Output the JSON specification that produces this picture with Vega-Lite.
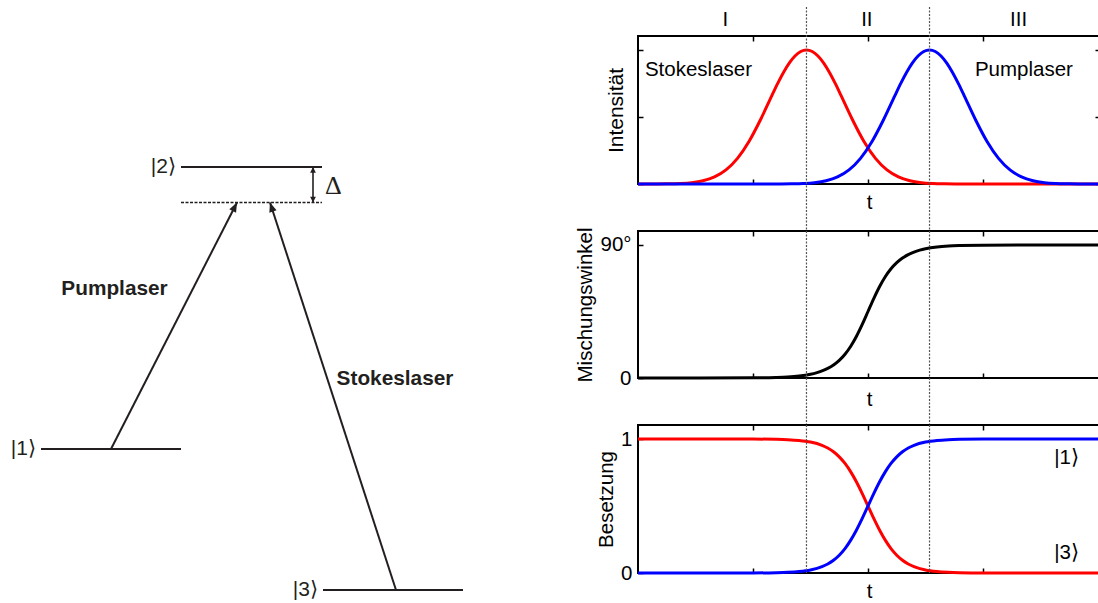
{
  "$schema": "https://vega.github.io/schema/vega-lite/v6.json",
  "padding": {"left": 0, "top": 5, "right": 0, "bottom": 0},
  "background": "white",
  "config": {
    "font": "Liberation Sans",
    "view": {"stroke": null},
    "axis": {
      "labelFont": "Liberation Sans", "titleFont": "Liberation Sans",
      "labelFontSize": 20.5, "titleFontSize": 20.5, "titleFontWeight": "normal",
      "labelColor": "black", "titleColor": "black",
      "domain": false, "grid": false,
      "tickColor": "black", "tickWidth": 1.5, "tickSize": -5
    }
  },
  "datasets": {
    "levels": [
      {"state": "|1⟩", "x1": 4.1, "x2": 18.1, "e": 3.333},
      {"state": "|2⟩", "x1": 18.1, "x2": 32.2, "e": 10},
      {"state": "|3⟩", "x1": 32.3, "x2": 46.3, "e": 0}
    ],
    "virtual": [{"x1": 18.1, "x2": 32.2, "e": 9.161}],
    "lasers": [
      {"laser": "Pumplaser", "x0": 11.1, "e0": 3.333, "x1": 23.7, "e1": 9.161, "lx": 11.45, "le": 7.123},
      {"laser": "Stokeslaser", "x0": 39.6, "e0": 0, "x1": 27.0, "e1": 9.161, "lx": 39.5, "le": 4.995}
    ],
    "detuning": [{"x": 31.3, "e_lo": 9.161, "e_hi": 10, "label": "Δ", "lx": 32.5, "le": 9.551}],
    "pulses": [
      {"laser": "Stokes", "t": -2, "v": 0},
      {"laser": "Stokes", "t": -1.835, "v": 0.0004},
      {"laser": "Stokes", "t": -1.735, "v": 0.0014},
      {"laser": "Stokes", "t": -1.635, "v": 0.0039},
      {"laser": "Stokes", "t": -1.535, "v": 0.0101},
      {"laser": "Stokes", "t": -1.435, "v": 0.0243},
      {"laser": "Stokes", "t": -1.335, "v": 0.053},
      {"laser": "Stokes", "t": -1.235, "v": 0.1054},
      {"laser": "Stokes", "t": -1.135, "v": 0.1915},
      {"laser": "Stokes", "t": -1.035, "v": 0.3173},
      {"laser": "Stokes", "t": -0.935, "v": 0.4797},
      {"laser": "Stokes", "t": -0.835, "v": 0.6615},
      {"laser": "Stokes", "t": -0.785, "v": 0.7506},
      {"laser": "Stokes", "t": -0.735, "v": 0.8322},
      {"laser": "Stokes", "t": -0.685, "v": 0.9019},
      {"laser": "Stokes", "t": -0.635, "v": 0.9551},
      {"laser": "Stokes", "t": -0.585, "v": 0.9886},
      {"laser": "Stokes", "t": -0.535, "v": 1},
      {"laser": "Stokes", "t": -0.485, "v": 0.9886},
      {"laser": "Stokes", "t": -0.435, "v": 0.9551},
      {"laser": "Stokes", "t": -0.385, "v": 0.9019},
      {"laser": "Stokes", "t": -0.335, "v": 0.8322},
      {"laser": "Stokes", "t": -0.285, "v": 0.7506},
      {"laser": "Stokes", "t": -0.235, "v": 0.6615},
      {"laser": "Stokes", "t": -0.135, "v": 0.4797},
      {"laser": "Stokes", "t": -0.035, "v": 0.3173},
      {"laser": "Stokes", "t": 0.065, "v": 0.1915},
      {"laser": "Stokes", "t": 0.165, "v": 0.1054},
      {"laser": "Stokes", "t": 0.265, "v": 0.053},
      {"laser": "Stokes", "t": 0.365, "v": 0.0243},
      {"laser": "Stokes", "t": 0.465, "v": 0.0101},
      {"laser": "Stokes", "t": 0.565, "v": 0.0039},
      {"laser": "Stokes", "t": 0.665, "v": 0.0014},
      {"laser": "Stokes", "t": 0.765, "v": 0.0004},
      {"laser": "Stokes", "t": 0.865, "v": 0},
      {"laser": "Stokes", "t": 2.0174, "v": 0},
      {"laser": "Pump", "t": -2, "v": 0},
      {"laser": "Pump", "t": -0.865, "v": 0},
      {"laser": "Pump", "t": -0.765, "v": 0.0004},
      {"laser": "Pump", "t": -0.665, "v": 0.0014},
      {"laser": "Pump", "t": -0.565, "v": 0.0039},
      {"laser": "Pump", "t": -0.465, "v": 0.0101},
      {"laser": "Pump", "t": -0.365, "v": 0.0243},
      {"laser": "Pump", "t": -0.265, "v": 0.053},
      {"laser": "Pump", "t": -0.165, "v": 0.1054},
      {"laser": "Pump", "t": -0.065, "v": 0.1915},
      {"laser": "Pump", "t": 0.035, "v": 0.3173},
      {"laser": "Pump", "t": 0.135, "v": 0.4797},
      {"laser": "Pump", "t": 0.235, "v": 0.6615},
      {"laser": "Pump", "t": 0.285, "v": 0.7506},
      {"laser": "Pump", "t": 0.335, "v": 0.8322},
      {"laser": "Pump", "t": 0.385, "v": 0.9019},
      {"laser": "Pump", "t": 0.435, "v": 0.9551},
      {"laser": "Pump", "t": 0.485, "v": 0.9886},
      {"laser": "Pump", "t": 0.535, "v": 1},
      {"laser": "Pump", "t": 0.585, "v": 0.9886},
      {"laser": "Pump", "t": 0.635, "v": 0.9551},
      {"laser": "Pump", "t": 0.685, "v": 0.9019},
      {"laser": "Pump", "t": 0.735, "v": 0.8322},
      {"laser": "Pump", "t": 0.785, "v": 0.7506},
      {"laser": "Pump", "t": 0.835, "v": 0.6615},
      {"laser": "Pump", "t": 0.935, "v": 0.4797},
      {"laser": "Pump", "t": 1.035, "v": 0.3173},
      {"laser": "Pump", "t": 1.135, "v": 0.1915},
      {"laser": "Pump", "t": 1.235, "v": 0.1054},
      {"laser": "Pump", "t": 1.335, "v": 0.053},
      {"laser": "Pump", "t": 1.435, "v": 0.0243},
      {"laser": "Pump", "t": 1.535, "v": 0.0101},
      {"laser": "Pump", "t": 1.635, "v": 0.0039},
      {"laser": "Pump", "t": 1.735, "v": 0.0014},
      {"laser": "Pump", "t": 1.835, "v": 0.0004},
      {"laser": "Pump", "t": 2.0174, "v": 0}
    ],
    "pulselabels": [
      {"t": -1.94, "v": 0.852, "label": "Stokeslaser"},
      {"t": 0.93, "v": 0.852, "label": "Pumplaser"}
    ],
    "phases": [
      {"t": -1.24, "v": 1.224, "label": "I"},
      {"t": -0.01, "v": 1.224, "label": "II"},
      {"t": 1.31, "v": 1.224, "label": "III"}
    ],
    "markers": [{"t": -0.535}, {"t": 0.535}],
    "mixing": [
      {"t": -2, "theta": 0},
      {"t": -1, "theta": 0.12},
      {"t": -0.8, "theta": 0.4},
      {"t": -0.7, "theta": 0.74},
      {"t": -0.6, "theta": 1.38},
      {"t": -0.5, "theta": 2.57},
      {"t": -0.45, "theta": 3.5},
      {"t": -0.4, "theta": 4.77},
      {"t": -0.35, "theta": 6.49},
      {"t": -0.3, "theta": 8.82},
      {"t": -0.25, "theta": 11.95},
      {"t": -0.2, "theta": 16.11},
      {"t": -0.15, "theta": 21.5},
      {"t": -0.1, "theta": 28.26},
      {"t": -0.05, "theta": 36.24},
      {"t": 0, "theta": 45},
      {"t": 0.05, "theta": 53.76},
      {"t": 0.1, "theta": 61.74},
      {"t": 0.15, "theta": 68.5},
      {"t": 0.2, "theta": 73.89},
      {"t": 0.25, "theta": 78.05},
      {"t": 0.3, "theta": 81.18},
      {"t": 0.35, "theta": 83.51},
      {"t": 0.4, "theta": 85.23},
      {"t": 0.45, "theta": 86.5},
      {"t": 0.5, "theta": 87.43},
      {"t": 0.6, "theta": 88.62},
      {"t": 0.7, "theta": 89.26},
      {"t": 0.8, "theta": 89.6},
      {"t": 1, "theta": 89.88},
      {"t": 2.0174, "theta": 90}
    ],
    "population": [
      {"series": "rot", "t": -2, "p": 1},
      {"series": "rot", "t": -1, "p": 0.9995},
      {"series": "rot", "t": -0.8, "p": 0.9975},
      {"series": "rot", "t": -0.7, "p": 0.9948},
      {"series": "rot", "t": -0.6, "p": 0.989},
      {"series": "rot", "t": -0.5, "p": 0.977},
      {"series": "rot", "t": -0.4, "p": 0.9526},
      {"series": "rot", "t": -0.35, "p": 0.9325},
      {"series": "rot", "t": -0.3, "p": 0.9047},
      {"series": "rot", "t": -0.25, "p": 0.867},
      {"series": "rot", "t": -0.2, "p": 0.8176},
      {"series": "rot", "t": -0.15, "p": 0.7549},
      {"series": "rot", "t": -0.1, "p": 0.6792},
      {"series": "rot", "t": -0.05, "p": 0.5927},
      {"series": "rot", "t": 0, "p": 0.5},
      {"series": "rot", "t": 0.05, "p": 0.4073},
      {"series": "rot", "t": 0.1, "p": 0.3208},
      {"series": "rot", "t": 0.15, "p": 0.2451},
      {"series": "rot", "t": 0.2, "p": 0.1824},
      {"series": "rot", "t": 0.25, "p": 0.133},
      {"series": "rot", "t": 0.3, "p": 0.0953},
      {"series": "rot", "t": 0.35, "p": 0.0675},
      {"series": "rot", "t": 0.4, "p": 0.0474},
      {"series": "rot", "t": 0.5, "p": 0.023},
      {"series": "rot", "t": 0.6, "p": 0.011},
      {"series": "rot", "t": 0.7, "p": 0.0052},
      {"series": "rot", "t": 0.8, "p": 0.0025},
      {"series": "rot", "t": 1, "p": 0.0005},
      {"series": "rot", "t": 2.0174, "p": 0},
      {"series": "blau", "t": -2, "p": 0},
      {"series": "blau", "t": -1, "p": 0.0005},
      {"series": "blau", "t": -0.8, "p": 0.0025},
      {"series": "blau", "t": -0.7, "p": 0.0052},
      {"series": "blau", "t": -0.6, "p": 0.011},
      {"series": "blau", "t": -0.5, "p": 0.023},
      {"series": "blau", "t": -0.4, "p": 0.0474},
      {"series": "blau", "t": -0.35, "p": 0.0675},
      {"series": "blau", "t": -0.3, "p": 0.0953},
      {"series": "blau", "t": -0.25, "p": 0.133},
      {"series": "blau", "t": -0.2, "p": 0.1824},
      {"series": "blau", "t": -0.15, "p": 0.2451},
      {"series": "blau", "t": -0.1, "p": 0.3208},
      {"series": "blau", "t": -0.05, "p": 0.4073},
      {"series": "blau", "t": 0, "p": 0.5},
      {"series": "blau", "t": 0.05, "p": 0.5927},
      {"series": "blau", "t": 0.1, "p": 0.6792},
      {"series": "blau", "t": 0.15, "p": 0.7549},
      {"series": "blau", "t": 0.2, "p": 0.8176},
      {"series": "blau", "t": 0.25, "p": 0.867},
      {"series": "blau", "t": 0.3, "p": 0.9047},
      {"series": "blau", "t": 0.35, "p": 0.9325},
      {"series": "blau", "t": 0.4, "p": 0.9526},
      {"series": "blau", "t": 0.5, "p": 0.977},
      {"series": "blau", "t": 0.6, "p": 0.989},
      {"series": "blau", "t": 0.7, "p": 0.9948},
      {"series": "blau", "t": 0.8, "p": 0.9975},
      {"series": "blau", "t": 1, "p": 0.9995},
      {"series": "blau", "t": 2.0174, "p": 1}
    ],
    "statelabels": [
      {"t": 1.727, "p": 0.858, "label": "|1⟩"},
      {"t": 1.727, "p": 0.146, "label": "|3⟩"}
    ]
  },
  "spacing": 10,
  "bounds": "flush",
  "hconcat": [
    {
      "width": 628,
      "height": 569,
      "layer": [
        {
          "data": {"name": "levels"},
          "mark": {"type": "rule", "strokeWidth": 2, "color": "#231f20"},
          "encoding": {
            "x": {"field": "x1", "type": "quantitative", "scale": {"domain": [0, 62.8], "nice": false, "zero": false}, "axis": null},
            "x2": {"field": "x2"},
            "y": {"field": "e", "type": "quantitative", "scale": {"domain": [-0.355, 13.097], "nice": false, "zero": false}, "axis": null}
          }
        },
        {
          "data": {"name": "levels"},
          "mark": {"type": "text", "align": "right", "baseline": "middle", "dx": -5, "fontSize": 21, "color": "#231f20"},
          "encoding": {
            "x": {"field": "x1", "type": "quantitative", "axis": null},
            "y": {"field": "e", "type": "quantitative", "axis": null},
            "text": {"field": "state"}
          }
        },
        {
          "data": {"name": "virtual"},
          "mark": {"type": "rule", "strokeWidth": 1.6, "strokeDash": [3, 1.5], "color": "#231f20"},
          "encoding": {
            "x": {"field": "x1", "type": "quantitative", "axis": null},
            "x2": {"field": "x2"},
            "y": {"field": "e", "type": "quantitative", "axis": null}
          }
        },
        {
          "data": {"name": "lasers"},
          "mark": {"type": "rule", "strokeWidth": 2, "color": "#231f20"},
          "encoding": {
            "x": {"field": "x0", "type": "quantitative", "axis": null},
            "x2": {"field": "x1"},
            "y": {"field": "e0", "type": "quantitative", "axis": null},
            "y2": {"field": "e1"}
          }
        },
        {
          "data": {"name": "lasers"},
          "transform": [{"filter": "datum.laser == 'Pumplaser'"}],
          "mark": {"type": "point", "shape": "M0,0L-0.4,1L0.4,1Z", "size": 360, "filled": true, "opacity": 1, "color": "#231f20", "angle": 27.07},
          "encoding": {
            "x": {"field": "x1", "type": "quantitative", "axis": null},
            "y": {"field": "e1", "type": "quantitative", "axis": null}
          }
        },
        {
          "data": {"name": "lasers"},
          "transform": [{"filter": "datum.laser == 'Stokeslaser'"}],
          "mark": {"type": "point", "shape": "M0,0L-0.4,1L0.4,1Z", "size": 360, "filled": true, "opacity": 1, "color": "#231f20", "angle": -18.01},
          "encoding": {
            "x": {"field": "x1", "type": "quantitative", "axis": null},
            "y": {"field": "e1", "type": "quantitative", "axis": null}
          }
        },
        {
          "data": {"name": "lasers"},
          "mark": {"type": "text", "align": "center", "baseline": "middle", "fontSize": 20.8, "fontWeight": "bold", "color": "#231f20"},
          "encoding": {
            "x": {"field": "lx", "type": "quantitative", "axis": null},
            "y": {"field": "le", "type": "quantitative", "axis": null},
            "text": {"field": "laser"}
          }
        },
        {
          "data": {"name": "detuning"},
          "mark": {"type": "rule", "strokeWidth": 1.6, "color": "#231f20"},
          "encoding": {
            "x": {"field": "x", "type": "quantitative", "axis": null},
            "y": {"field": "e_lo", "type": "quantitative", "axis": null},
            "y2": {"field": "e_hi"}
          }
        },
        {
          "data": {"name": "detuning"},
          "mark": {"type": "point", "shape": "M0,0L-0.5,1L0.5,1Z", "size": 130, "filled": true, "opacity": 1, "color": "#231f20", "angle": 0},
          "encoding": {
            "x": {"field": "x", "type": "quantitative", "axis": null},
            "y": {"field": "e_hi", "type": "quantitative", "axis": null}
          }
        },
        {
          "data": {"name": "detuning"},
          "mark": {"type": "point", "shape": "M0,0L-0.5,1L0.5,1Z", "size": 130, "filled": true, "opacity": 1, "color": "#231f20", "angle": 180},
          "encoding": {
            "x": {"field": "x", "type": "quantitative", "axis": null},
            "y": {"field": "e_lo", "type": "quantitative", "axis": null}
          }
        },
        {
          "data": {"name": "detuning"},
          "mark": {"type": "text", "align": "left", "baseline": "middle", "fontSize": 26, "font": "Liberation Serif", "color": "#231f20"},
          "encoding": {
            "x": {"field": "lx", "type": "quantitative", "axis": null},
            "y": {"field": "le", "type": "quantitative", "axis": null},
            "text": {"field": "label"}
          }
        }
      ]
    },
    {
      "spacing": 47,
      "bounds": "flush",
      "vconcat": [
        {
          "width": 462,
          "height": 148,
          "view": {"stroke": "black", "strokeWidth": 2},
          "layer": [
            {
              "data": {"name": "pulses"},
              "transform": [{"filter": "datum.laser == 'Stokes'"}],
              "mark": {"type": "line", "color": "#ff0000", "strokeWidth": 3, "interpolate": "monotone"},
              "encoding": {
                "x": {"field": "t", "type": "quantitative", "scale": {"domain": [-2, 2.0174], "nice": false, "zero": false},
                      "axis": {"orient": "bottom", "values": [-1, 0, 1], "labels": false, "title": "t", "titlePadding": 8}},
                "y": {"field": "v", "type": "quantitative", "scale": {"domain": [0, 1.1045], "nice": false, "zero": false},
                      "axis": {"orient": "left", "values": [0, 0.5, 1], "labels": false, "title": "Intensität", "titleFontSize": 21, "titlePadding": 11}}
              }
            },
            {
              "data": {"name": "pulses"},
              "transform": [{"filter": "datum.laser == 'Pump'"}],
              "mark": {"type": "line", "color": "#0000ff", "strokeWidth": 3, "interpolate": "monotone"},
              "encoding": {
                "x": {"field": "t", "type": "quantitative", "axis": {"orient": "top", "values": [-1, 0, 1], "labels": false, "title": null}},
                "y": {"field": "v", "type": "quantitative", "axis": {"orient": "right", "values": [0, 0.5, 1], "labels": false, "title": null}}
              }
            },
            {
              "data": {"name": "pulselabels"},
              "mark": {"type": "text", "align": "left", "baseline": "middle", "fontSize": 20.5, "color": "black"},
              "encoding": {
                "x": {"field": "t", "type": "quantitative", "axis": null},
                "y": {"field": "v", "type": "quantitative", "axis": null},
                "text": {"field": "label"}
              }
            },
            {
              "data": {"name": "phases"},
              "mark": {"type": "text", "align": "center", "baseline": "middle", "fontSize": 20.5, "color": "black"},
              "encoding": {
                "x": {"field": "t", "type": "quantitative", "axis": null},
                "y": {"field": "v", "type": "quantitative", "axis": null},
                "text": {"field": "label"}
              }
            },
            {
              "data": {"name": "markers"},
              "mark": {"type": "rule", "color": "#555555", "strokeWidth": 1.2, "strokeDash": [2, 1.5]},
              "encoding": {
                "x": {"field": "t", "type": "quantitative", "axis": null},
                "y": {"datum": 1.321, "axis": null},
                "y2": {"datum": -0.351}
              }
            }
          ]
        },
        {
          "width": 462,
          "height": 147,
          "view": {"stroke": "black", "strokeWidth": 2},
          "resolve": {"axis": {"y": "independent", "x": "independent"}},
          "layer": [
            {
              "data": {"name": "mixing"},
              "mark": {"type": "line", "color": "black", "strokeWidth": 3, "interpolate": "monotone"},
              "encoding": {
                "x": {"field": "t", "type": "quantitative", "scale": {"domain": [-2, 2.0174], "nice": false, "zero": false},
                      "axis": {"orient": "bottom", "values": [-1, 0, 1], "labels": false, "title": "t", "titlePadding": 11}},
                "y": {"field": "theta", "type": "quantitative", "scale": {"domain": [0, 99.47], "nice": false, "zero": false},
                      "axis": {"orient": "left", "values": [0, 90], "labelExpr": "datum.value == 90 ? '90°' : '0'", "labelPadding": 12, "title": "Mischungswinkel", "titlePadding": 4}}
              }
            },
            {
              "data": {"name": "markers"},
              "mark": {"type": "rule", "color": "#555555", "strokeWidth": 1.2, "strokeDash": [2, 1.5]},
              "encoding": {
                "x": {"field": "t", "type": "quantitative", "axis": {"orient": "top", "values": [-1, 0, 1], "labels": false, "title": null}},
                "y": {"datum": 99.47, "axis": null},
                "y2": {"datum": -31.8}
              }
            }
          ]
        },
        {
          "width": 462,
          "height": 148,
          "view": {"stroke": "black", "strokeWidth": 2},
          "resolve": {"axis": {"y": "independent", "x": "independent"}},
          "layer": [
            {
              "data": {"name": "population"},
              "transform": [{"filter": "datum.series == 'rot'"}],
              "mark": {"type": "line", "color": "#ff0000", "strokeWidth": 3, "interpolate": "monotone"},
              "encoding": {
                "x": {"field": "t", "type": "quantitative", "scale": {"domain": [-2, 2.0174], "nice": false, "zero": false},
                      "axis": {"orient": "bottom", "values": [-1, 0, 1], "labels": false, "title": "t", "titlePadding": 8}},
                "y": {"field": "p", "type": "quantitative", "scale": {"domain": [0, 1.1045], "nice": false, "zero": false},
                      "axis": {"orient": "left", "values": [0, 1], "format": "d", "labelPadding": 11, "title": "Besetzung", "titlePadding": 4}}
              }
            },
            {
              "data": {"name": "population"},
              "transform": [{"filter": "datum.series == 'blau'"}],
              "mark": {"type": "line", "color": "#0000ff", "strokeWidth": 3, "interpolate": "monotone"},
              "encoding": {
                "x": {"field": "t", "type": "quantitative", "axis": {"orient": "top", "values": [-1, 0, 1], "labels": false, "title": null}},
                "y": {"field": "p", "type": "quantitative", "axis": null}
              }
            },
            {
              "data": {"name": "statelabels"},
              "mark": {"type": "text", "align": "center", "baseline": "middle", "fontSize": 20.5, "color": "black"},
              "encoding": {
                "x": {"field": "t", "type": "quantitative", "axis": null},
                "y": {"field": "p", "type": "quantitative", "axis": null},
                "text": {"field": "label"}
              }
            },
            {
              "data": {"name": "markers"},
              "mark": {"type": "rule", "color": "#555555", "strokeWidth": 1.2, "strokeDash": [2, 1.5]},
              "encoding": {
                "x": {"field": "t", "type": "quantitative", "axis": null},
                "y": {"datum": 1.1045, "axis": null},
                "y2": {"datum": 0}
              }
            }
          ]
        }
      ]
    }
  ]
}
